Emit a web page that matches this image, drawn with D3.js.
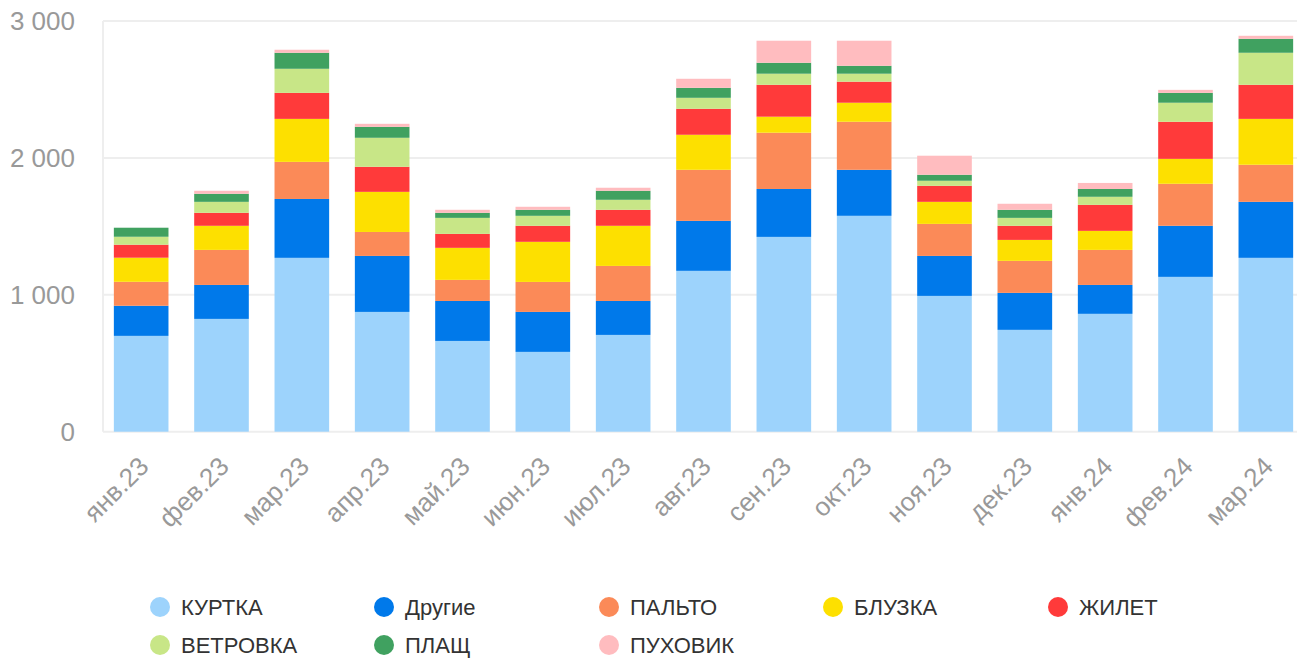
<!DOCTYPE html>
<html><head><meta charset="utf-8">
<script src="https://cdn.jsdelivr.net/npm/d3@7"></script>
<style>body{margin:0;background:#fff;font-family:"Liberation Sans",Arial,sans-serif;}</style>
</head><body><svg id="c" width="1297" height="658"></svg>
<script>
const months = ["янв.23","фев.23","мар.23","апр.23","май.23","июн.23","июл.23","авг.23","сен.23","окт.23","ноя.23","дек.23","янв.24","фев.24","мар.24"];
const seriesNames = ["КУРТКА","Другие","ПАЛЬТО","БЛУЗКА","ЖИЛЕТ","ВЕТРОВКА","ПЛАЩ","ПУХОВИК"];
const seriesColors = ["#9dd3fc","#0079ea","#fb8a58","#fde000","#ff3a3a","#c8e687","#40a160","#ffbcbf"];
const kurtka   = [700, 824, 1270, 875, 663, 583, 707, 1175, 1423, 1577, 992, 744, 861, 1131, 1270];
const drugie   = [220, 248, 430, 409, 292, 292, 248, 365, 350, 336, 292, 270, 211, 373, 409];
const palto    = [175, 256, 271, 175, 154, 219, 256, 373, 411, 351, 234, 234, 256, 307, 271];
const bluzka   = [176, 176, 314, 293, 234, 293, 293, 256, 117, 139, 161, 153, 139, 182, 335];
const zhilet   = [95, 95, 190, 183, 102, 117, 117, 190, 233, 154, 117, 103, 190, 271, 249];
const vetrovka = [58, 80, 176, 212, 117, 73, 73, 80, 81, 58, 37, 58, 59, 139, 234];
const plashch  = [66, 59, 117, 80, 37, 44, 66, 73, 80, 58, 44, 59, 57, 72, 102];
const puhovik  = [0, 22, 22, 22, 22, 22, 22, 66, 161, 183, 139, 44, 44, 22, 22];
const yTicks = [0, 1000, 2000, 3000];

const seriesValues = [kurtka, drugie, palto, bluzka, zhilet, vetrovka, plashch, puhovik];
const rows = months.map((m, i) => {
  const r = {month: m};
  seriesNames.forEach((s, j) => r[s] = seriesValues[j][i]);
  return r;
});
const stacked = d3.stack().keys(seriesNames)(rows);

const svg = d3.select("#c");
const mLeft = 103, mRight = 1297, mTop = 21, mBottom = 431.7;
const x = d3.scaleBand().domain(months).range([101, 1306]).paddingInner(0.32).paddingOuter(0.16);
const y = d3.scaleLinear().domain([0, 3000]).range([mBottom, mTop]);
const fmt = v => d3.format(",")(v).replace(/,/g, " ");

// grid
svg.append("g").selectAll("line").data(yTicks).join("line")
  .attr("x1", mLeft).attr("x2", mRight)
  .attr("y1", d => y(d)).attr("y2", d => y(d))
  .attr("stroke", "#eeeeee").attr("stroke-width", 2);
svg.append("line").attr("x1", mLeft).attr("x2", mLeft).attr("y1", mTop).attr("y2", mBottom)
  .attr("stroke", "#eeeeee").attr("stroke-width", 2);

// y labels
svg.append("g").selectAll("text").data(yTicks).join("text")
  .attr("x", 75).attr("y", d => y(d)).attr("dy", "0.35em")
  .attr("text-anchor", "end").attr("fill", "#999").attr("font-size", 26)
  .text(d => fmt(d));

// bars
svg.append("g").selectAll("g").data(stacked).join("g")
  .attr("fill", (d, i) => seriesColors[i])
  .selectAll("rect").data(d => d).join("rect")
  .attr("x", d => x(d.data.month))
  .attr("width", x.bandwidth())
  .attr("y", d => y(d[1]))
  .attr("height", d => Math.max(0, y(d[0]) - y(d[1])));

// x labels
svg.append("g").selectAll("text").data(months).join("text")
  .attr("transform", d => `translate(${x(d) + x.bandwidth()/2 + 9},${468}) rotate(-45)`)
  .attr("text-anchor", "end").attr("fill", "#999").attr("font-size", 26)
  .text(d => d);

// legend
const legCols = [160, 384, 609, 833, 1058];
const lg = svg.append("g").selectAll("g").data(seriesNames).join("g")
  .attr("transform", (d, i) => `translate(${legCols[i % 5]},${607 + Math.floor(i / 5) * 38})`);
lg.append("circle").attr("r", 10).attr("fill", (d, i) => seriesColors[i]);
lg.append("text").attr("x", 21).attr("dy", "0.35em").attr("font-size", 22).attr("fill", "#333").text(d => d);
</script></body></html>
